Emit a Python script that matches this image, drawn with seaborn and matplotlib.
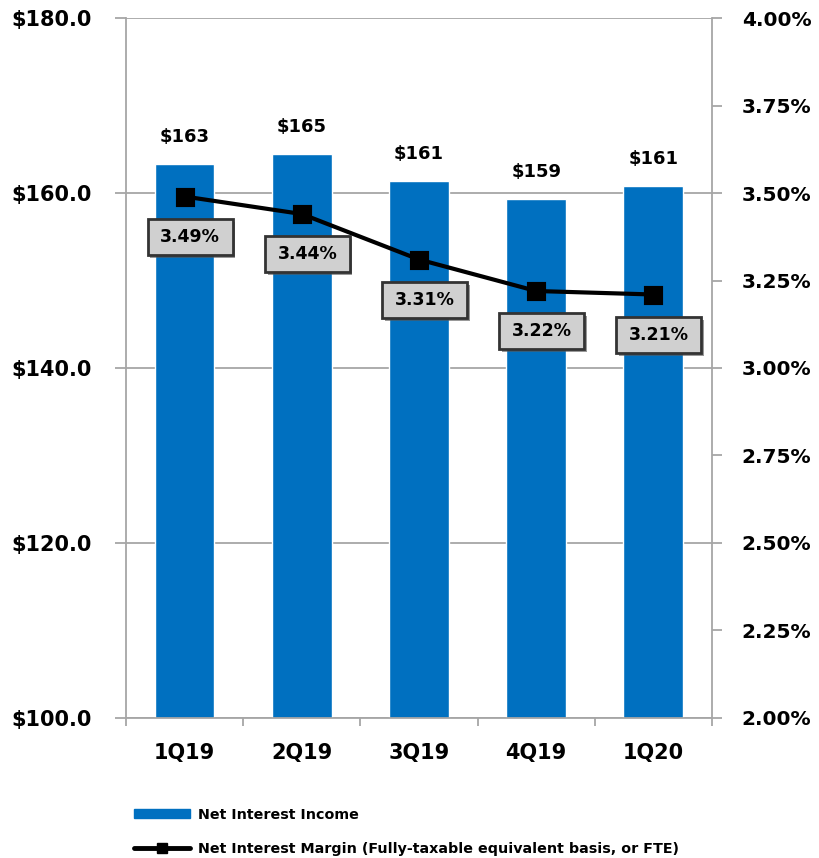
import matplotlib
matplotlib.use("Agg")
import matplotlib.pyplot as plt
import matplotlib.patheffects as pe
from matplotlib.patches import Patch
from matplotlib.lines import Line2D
from matplotlib.path import Path
import seaborn as sns
import numpy as np
import pandas as pd

quarters = ["1Q19", "2Q19", "3Q19", "4Q19", "1Q20"]
nii = [163.3, 164.5, 161.4, 159.3, 160.8]
nii_labels = ["$163", "$165", "$161", "$159", "$161"]
nim = [3.49, 3.44, 3.31, 3.22, 3.21]
nim_labels = ["3.49%", "3.44%", "3.31%", "3.22%", "3.21%"]
left_ticks = [100, 120, 140, 160, 180]
right_ticks = [2.00, 2.25, 2.50, 2.75, 3.00, 3.25, 3.50, 3.75, 4.00]

sns.set_theme(style="white")
plt.rcParams["font.family"] = ["DejaVu Sans"]
plt.rcParams["font.weight"] = "bold"
plt.rcParams["text.color"] = "black"
plt.rcParams["xtick.labelcolor"] = "black"
plt.rcParams["ytick.labelcolor"] = "black"

df = pd.DataFrame({"q": quarters, "nii": nii, "nim": nim})

fig = plt.figure(figsize=(8.19, 8.58), dpi=100)
ax = fig.add_axes([0.1538, 0.1632, 0.7155, 0.8158])

blue = "#0070C0"
grid_c = "#A6A6A6"


def wide_box(x0, y0, width, height, mutation_size):
    padx = 0.72 * mutation_size
    pady = 0.52 * mutation_size
    x0 -= padx
    y0 -= pady
    w = width + 2 * padx
    h = height + 2 * pady
    return Path([(x0, y0), (x0 + w, y0), (x0 + w, y0 + h), (x0, y0 + h), (x0, y0)],
                closed=True)


sns.barplot(data=df, x="q", y="nii", order=quarters, color=blue, width=0.51,
            saturation=1, ax=ax, zorder=2)
ax.set_ylim(100, 180)
ax.set_xlim(-0.5, 4.5)
ax.set_yticks(left_ticks)
ax.set_yticklabels([f"${v:.1f}" for v in left_ticks], fontsize=15, fontweight="bold")
ax.yaxis.grid(True, color=grid_c, linewidth=1.3, zorder=0)
ax.set_axisbelow(True)
ax.set_xlabel("")
ax.set_ylabel("")
ax.set_xticks(np.arange(-0.5, 5.0, 1.0))
ax.set_xticklabels([])
ax.set_xticks(np.arange(5), minor=True)
ax.set_xticklabels(quarters, minor=True, fontsize=15, fontweight="bold")
ax.tick_params(axis="x", which="major", direction="out", length=6, width=1.3,
               color=grid_c, bottom=True)
ax.tick_params(axis="x", which="minor", length=0, pad=18, labelcolor="black")
ax.tick_params(axis="y", direction="out", length=8, width=1.3, color=grid_c,
               left=True, pad=16.5, labelcolor="black")
for s in ["left", "bottom"]:
    ax.spines[s].set_color(grid_c)
    ax.spines[s].set_linewidth(1.3)
ax.spines["top"].set_visible(False)
ax.spines["right"].set_visible(False)

for i, (v, lab) in enumerate(zip(nii, nii_labels)):
    ax.annotate(lab, (i, v), xytext=(0, 13), textcoords="offset points",
                ha="center", va="bottom", fontsize=13, fontweight="bold",
                color="black")

ax2 = ax.twinx()
sns.pointplot(data=df, x="q", y="nim", order=quarters, color="black",
              marker="s", markersize=11, linewidth=3, ax=ax2, errorbar=None)
ax2.set_ylim(2.0, 4.0)
ax2.set_xlim(-0.5, 4.5)
ax2.set_yticks(right_ticks)
ax2.set_yticklabels([f"{v:.2f}%" for v in right_ticks], fontsize=14.5, fontweight="bold")
ax2.set_ylabel("")
ax2.set_xlabel("")
ax2.tick_params(axis="y", direction="out", length=7.5, width=1.3, color=grid_c,
                right=True, pad=14, labelcolor="black")
for s in ["left", "bottom", "top"]:
    ax2.spines[s].set_visible(False)
ax2.spines["right"].set_color(grid_c)
ax2.spines["right"].set_linewidth(1.3)
ax2.grid(False)

for i, (v, lab) in enumerate(zip(nim, nim_labels)):
    t = ax2.annotate(lab, (i, v), xytext=(4, -29), textcoords="offset points",
                     ha="center", va="center", fontsize=12.5, fontweight="bold",
                     color="black",
                     bbox=dict(boxstyle=wide_box, facecolor="#D0D0D0",
                               edgecolor="#333333", linewidth=2))
    t.get_bbox_patch().set_path_effects([
        pe.SimplePatchShadow(offset=(2, -2), shadow_rgbFace="#555555", alpha=0.6),
        pe.Normal()])

handles = [Patch(facecolor=blue, edgecolor=blue),
           Line2D([0], [0], color="black", linewidth=3.5, marker="s", markersize=7)]
labels = ["Net Interest Income",
          "Net Interest Margin (Fully-taxable equivalent basis, or FTE)"]
fig.legend(handles, labels, loc="lower left", bbox_to_anchor=(0.148, -0.013),
           frameon=False, handlelength=3.9, handleheight=0.6,
           labelspacing=1.45, handletextpad=0.6, labelcolor="black",
           prop={"weight": "bold", "size": 10.3})

fig.savefig("out.png", dpi=100)
